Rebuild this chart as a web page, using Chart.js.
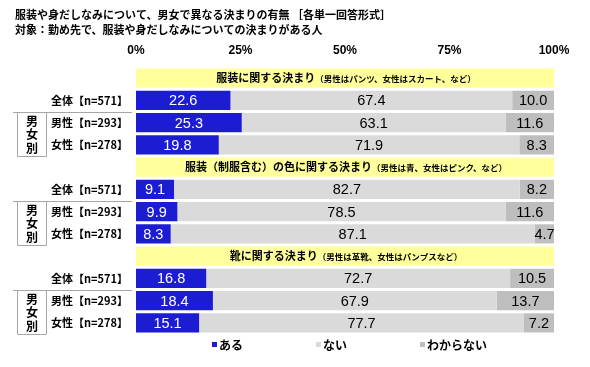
<!DOCTYPE html>
<html lang="ja">
<head>
<meta charset="utf-8">
<script src="https://cdn.jsdelivr.net/npm/chart.js@4.4.1/dist/chart.umd.min.js"></script>
<style>
  body { margin: 0; background: #fff; }
</style>
</head>
<body>
<canvas id="chart" width="590" height="367"></canvas>
<script>
const titleText = '服装や身だしなみについて、男女で異なる決まりの有無 ［各単一回答形式］';
const subtitleText = '対象：勤め先で、服装や身だしなみについての決まりがある人';
const sections = ['服装に関する決まり', '服装（制服含む）の色に関する決まり', '靴に関する決まり'];
const sectionNotes = ['（男性はパンツ、女性はスカート、など）', '（男性は青、女性はピンク、など）', '（男性は革靴、女性はパンプスなど）'];
const groups = ['全体【n=571】', '男性【n=293】', '女性【n=278】'];
const groupBoxText = ['男', '女', '別'];
const seriesNames = ['ある', 'ない', 'わからない'];
const aru = [22.6, 25.3, 19.8, 9.1, 9.9, 8.3, 16.8, 18.4, 15.1];
const nai = [67.4, 63.1, 71.9, 82.7, 78.5, 87.1, 72.7, 67.9, 77.7];
const wakaranai = [10.0, 11.6, 8.3, 8.2, 11.6, 4.7, 10.5, 13.7, 7.2];
const xTicks = [0, 25, 50, 75, 100];

const colors = ['#1c1cd2', '#dadada', '#bebebe'];
const headColor = '#ffff9c';
const JP = '"Noto Sans CJK JP", sans-serif';
const NUM = '"Liberation Sans", Arial, sans-serif';

// 見出し行 + 3行 を1セクションとして並べる
const labels = [];
const headRows = [];
const rowsAru = [], rowsNai = [], rowsWak = [];
sections.forEach((s, si) => {
  labels.push('');
  headRows.push(100);
  rowsAru.push(null); rowsNai.push(null); rowsWak.push(null);
  groups.forEach((g, gi) => {
    const k = si * groups.length + gi;
    labels.push(g);
    headRows.push(null);
    rowsAru.push(aru[k]); rowsNai.push(nai[k]); rowsWak.push(wakaranai[k]);
  });
});

const valueLabels = {
  id: 'valueLabels',
  afterDatasetsDraw(chart) {
    const ctx = chart.ctx;
    ctx.save();
    ctx.font = '14.5px ' + NUM;
    ctx.textAlign = 'center';
    ctx.textBaseline = 'middle';
    for (let d = 0; d < 3; d++) {
      const ds = chart.data.datasets[d];
      chart.getDatasetMeta(d).data.forEach((el, i) => {
        const v = ds.data[i];
        if (v == null) return;
        ctx.fillStyle = d === 0 ? '#fff' : '#000';
        ctx.fillText(v.toFixed(1), (el.x + el.base) / 2, el.y + 1);
      });
    }
    // 見出し
    const meta = chart.getDatasetMeta(3);
    let s = 0;
    meta.data.forEach((el, i) => {
      if (chart.data.datasets[3].data[i] == null) return;
      const main = sections[s], note = sectionNotes[s];
      ctx.font = 'bold 11px ' + JP;
      const w1 = ctx.measureText(main).width;
      ctx.font = 'bold 8.5px ' + JP;
      const w2 = ctx.measureText(note).width;
      const cx = (el.x + el.base) / 2 + 1;
      let x = cx - (w1 + w2) / 2;
      ctx.fillStyle = '#000';
      ctx.textAlign = 'left';
      ctx.font = 'bold 11px ' + JP;
      ctx.fillText(main, x, el.y);
      ctx.font = 'bold 8.5px ' + JP;
      ctx.fillText(note, x + w1, el.y + 0.5);
      s++;
    });
    ctx.restore();
  }
};

const decorations = {
  id: 'decorations',
  afterDraw(chart) {
    const ctx = chart.ctx;
    const y = chart.scales.y;
    const area = chart.chartArea;
    const step = y.getPixelForValue(1) - y.getPixelForValue(0);
    ctx.save();
    ctx.fillStyle = '#000';
    ctx.textBaseline = 'middle';
    ctx.font = 'bold 11px ' + JP;
    ctx.fillText(titleText, 15, 15);
    ctx.fillText(subtitleText, 15, 30);

    // 男女別の枠
    ctx.strokeStyle = '#a6a6a6';
    ctx.lineWidth = 1;
    sections.forEach((s, si) => {
      const first = si * 4 + 2;
      const top = Math.round(y.getPixelForValue(first) - step / 2) + 0.5;
      const bottom = Math.round(y.getPixelForValue(first + 1) + step / 2) + 0.5;
      ctx.beginPath();
      ctx.moveTo(13, top); ctx.lineTo(132, top);
      ctx.moveTo(17.5, top); ctx.lineTo(17.5, bottom); ctx.lineTo(46.5, bottom); ctx.lineTo(46.5, top);
      ctx.stroke();
      ctx.font = 'bold 12px ' + JP;
      ctx.textAlign = 'center';
      const mid = (top + bottom) / 2;
      groupBoxText.forEach((t, ti) => {
        ctx.fillText(t, 32, mid + (ti - 1) * 13.5);
      });
    });

    // 凡例
    ctx.textAlign = 'left';
    ctx.font = 'bold 12px ' + JP;
    seriesNames.forEach((n, i) => {
      const x = area.left + 76 + i * 104;
      ctx.fillStyle = colors[i];
      ctx.fillRect(x, 342, 5, 5);
      ctx.fillStyle = '#000';
      ctx.fillText(n, x + 7, 345);
    });
    ctx.restore();
  }
};

new Chart(document.getElementById('chart'), {
  type: 'bar',
  data: {
    labels: labels,
    datasets: [
      { label: seriesNames[0], data: rowsAru, backgroundColor: colors[0] },
      { label: seriesNames[1], data: rowsNai, backgroundColor: colors[1] },
      { label: seriesNames[2], data: rowsWak, backgroundColor: colors[2] },
      { label: 'head', data: headRows, backgroundColor: headColor }
    ]
  },
  options: {
    indexAxis: 'y',
    responsive: false,
    animation: false,
    categoryPercentage: 1,
    barPercentage: 0.86,
    layout: { padding: { top: 43, right: 36, bottom: 33, left: 0 } },
    plugins: { legend: { display: false }, tooltip: { enabled: false } },
    scales: {
      x: {
        position: 'top',
        stacked: true,
        min: 0,
        max: 100,
        afterBuildTicks: (scale) => { scale.ticks = xTicks.map(v => ({ value: v })); },
        afterFit: (scale) => { scale.height = 24; },
        ticks: {
          padding: 9,
          color: '#000',
          font: { family: NUM, size: 12, weight: 'bold' },
          callback: (v) => v + '%'
        },
        grid: { display: false, drawTicks: false },
        border: { display: false }
      },
      y: {
        stacked: true,
        afterFit: (scale) => {
          scale.width = 136;
          scale.paddingTop = 0;
          scale.paddingBottom = 0;
        },
        ticks: {
          padding: 8,
          color: '#000',
          font: { family: JP, size: 11, weight: 'bold' }
        },
        grid: { display: false, drawTicks: false },
        border: { display: false }
      }
    }
  },
  plugins: [valueLabels, decorations]
});
</script>
</body>
</html>
